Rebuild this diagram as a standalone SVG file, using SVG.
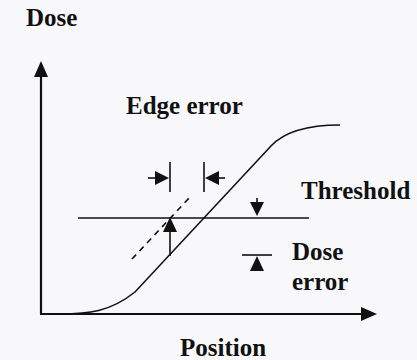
<svg xmlns="http://www.w3.org/2000/svg" width="417" height="360" viewBox="0 0 417 360">
<style>
.t{font-family:"Liberation Serif","Times New Roman",serif;font-weight:bold;font-size:25px;fill:#111}
.ln{stroke:#111;stroke-width:1.6;fill:none}
.ax{stroke:#111;stroke-width:2.2;fill:none}
.hd{fill:#111;stroke:none}
</style>
<rect width="417" height="360" fill="#f8f8fa"/>
<g id="axes">
<line class="ax" x1="41" y1="314" x2="41" y2="72"/>
<polygon class="hd" points="41,61 34,77 48,77"/>
<line class="ax" x1="40" y1="314" x2="364" y2="314"/>
<polygon class="hd" points="377,314 361,307 361,321"/>
</g>
<g id="curve">
<path class="ln" d="M60,314 C88,314 110,312 135,292 L271,146 C285,131 310,125 340,125"/>
</g>
<g id="shifted">
<line class="ln" x1="132" y1="259" x2="191" y2="196" stroke-dasharray="6,5"/>
</g>
<g id="threshold">
<line class="ln" x1="78" y1="218" x2="309" y2="218"/>
</g>
<g id="connectors">
<line class="ln" x1="170" y1="256" x2="170" y2="229"/>
<polygon class="hd" points="170,217 163,232 177,232"/>
<line class="ln" x1="170" y1="162" x2="170" y2="192"/>
<line class="ln" x1="204" y1="162" x2="204" y2="192"/>
<line class="ln" x1="148" y1="178" x2="157" y2="178"/>
<polygon class="hd" points="169,178 155,171 155,185"/>
<line class="ln" x1="217" y1="178" x2="225" y2="178"/>
<polygon class="hd" points="205,178 219,171 219,185"/>
<line class="ln" x1="257" y1="198" x2="257" y2="204"/>
<polygon class="hd" points="250,202 264,202 257,216"/>
<line class="ln" x1="242" y1="255" x2="272" y2="255"/>
<polygon class="hd" points="257,256 250,271 264,271"/>
</g>
<g id="labels">
<text class="t" x="26" y="26">Dose</text>
<text class="t" x="126" y="114">Edge error</text>
<text class="t" x="301" y="199">Threshold</text>
<text class="t" x="292" y="260">Dose</text>
<text class="t" x="292" y="290">error</text>
<text class="t" x="180" y="356">Position</text>
</g>
</svg>
